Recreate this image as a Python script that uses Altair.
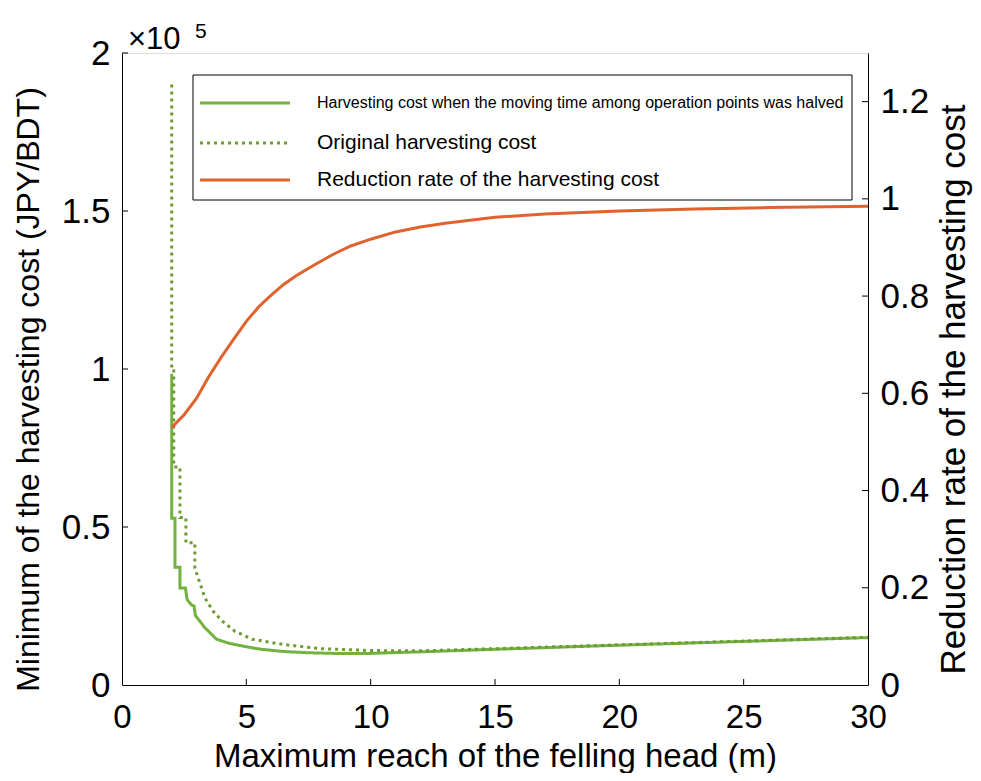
import altair as alt
import pandas as pd

S1 = "Harvesting cost when the moving time among operation points was halved"
S2 = "Original harvesting cost"
S3 = "Reduction rate of the harvesting cost"

# Halved moving time cost (JPY/BDT), corner points
half_x = [2.0, 2.0, 2.13, 2.13, 2.33, 2.33, 2.55, 2.62, 2.8, 2.9, 2.95, 3.2, 3.3,
          3.8, 4.3, 5.0, 5.6, 6.5, 7.5, 8.5, 10, 12, 15, 20, 25, 30]
half_y = [98500, 52800, 52800, 37300, 37300, 30700, 30700, 27000, 25300, 25000, 22000, 19500, 18400,
          14500, 13200, 12100, 11300, 10600, 10200, 10000, 10000, 10500, 11300, 12600, 13800, 15000]

# Original cost (JPY/BDT)
orig_x = [2.0, 2.0, 2.08, 2.08, 2.33, 2.33, 2.57, 2.57, 2.93, 2.93, 3.1, 3.34, 3.67,
          4.02, 4.54, 5.23, 6.5, 8, 10, 12, 15, 20, 25, 30]
orig_y = [190000, 100000, 100000, 69000, 69000, 53000, 53000, 45000, 45000, 37000, 33000, 27500, 23300,
          20300, 17000, 14500, 12800, 11500, 10900, 10800, 11500, 12700, 13900, 15100]

# Reduction rate (right axis)
rate_x = [2.0, 2.5, 3.0, 3.5, 4.0, 4.5, 5.0, 5.5, 6.0, 6.5, 7.0, 7.8, 8.5, 9.2,
          10.0, 11.0, 12.0, 13.0, 14.0, 15.0, 17.0, 20.0, 23.0, 26.0, 30.0]
rate_y = [0.530, 0.556, 0.590, 0.635, 0.675, 0.712, 0.748, 0.778, 0.802, 0.824, 0.842,
          0.866, 0.886, 0.903, 0.917, 0.932, 0.942, 0.950, 0.956, 0.962, 0.969, 0.975, 0.979, 0.982, 0.985]

x_ticks = [0, 5, 10, 15, 20, 25, 30]
left_ticks = [0, 50000, 100000, 150000, 200000]
right_ticks = [0, 0.2, 0.4, 0.6, 0.8, 1.0, 1.2]

legend_labels = [S1, S2, S3]
legend_sizes = [16, 21, 21]

W, H = 746, 632
FONT = "Liberation Sans"
GREEN = "#72b23e"
OLIVE = "#6f9a35"
RED = "#e0622c"
COLORS = [GREEN, OLIVE, RED]
DASHES = [[1, 0], [3, 4], [1, 0]]

half = pd.DataFrame({"x": half_x, "y": half_y, "i": list(range(len(half_x)))})
orig = pd.DataFrame({"x": orig_x, "y": orig_y, "i": list(range(len(orig_x)))})
rate = pd.DataFrame({"x": rate_x, "r": rate_y, "i": list(range(len(rate_x)))})

xscale = alt.Scale(domain=[0, 30], nice=False, zero=False)
lscale = alt.Scale(domain=[0, 200000], nice=False)
rscale = alt.Scale(domain=[0, 1.3], nice=False)

xaxis = alt.Axis(values=x_ticks, title="Maximum reach of the felling head (m)", grid=False,
                 tickSize=0, labelFontSize=33, titleFontSize=33, labelPadding=16, titlePadding=6,
                 labelFont=FONT, titleFont=FONT, titleFontWeight="normal",
                 labelColor="black", titleColor="black", domainColor="black", labelFlush=False)
laxis = alt.Axis(values=left_ticks, title="Minimum of the harvesting cost (JPY/BDT)", grid=False,
                 tickSize=0, labelFontSize=35, titleFontSize=32, labelPadding=12, titlePadding=16,
                 titleY=336,
                 labelExpr="format(datum.value / 100000, '~g')",
                 labelFont=FONT, titleFont=FONT, titleFontWeight="normal",
                 labelColor="black", titleColor="black", domainColor="black")
raxis = alt.Axis(values=right_ticks, title="Reduction rate of the harvesting cost", grid=False, orient="right",
                 tickSize=0, labelFontSize=35, titleFontSize=35, labelPadding=12, titlePadding=8,
                 titleAngle=270, titleBaseline="top", titleY=336,
                 format="~g",
                 labelFont=FONT, titleFont=FONT, titleFontWeight="normal",
                 labelColor="black", titleColor="black", domainColor="black")


def cost_line(df, color, dash):
    return alt.Chart(df).mark_line(strokeWidth=3, color=color, strokeDash=dash).encode(
        x=alt.X("x:Q", scale=xscale, axis=xaxis),
        y=alt.Y("y:Q", scale=lscale, axis=laxis),
        order="i:Q",
    )

half_line = cost_line(half, GREEN, DASHES[0])
orig_line = cost_line(orig, OLIVE, DASHES[1])

bticks = alt.Chart(pd.DataFrame({"v": x_ticks[1:-1]})).mark_rule(color="black", strokeWidth=1).encode(
    x=alt.X("v:Q", scale=xscale, axis=xaxis), y=alt.value(H - 6), y2=alt.value(H))
lticks = alt.Chart(pd.DataFrame({"v": left_ticks[1:]})).mark_rule(color="black", strokeWidth=1).encode(
    y=alt.Y("v:Q", scale=lscale, axis=laxis), x=alt.value(0), x2=alt.value(6))

exp_main = alt.Chart(pd.DataFrame({"t": ["\u00d710"]})).mark_text(
    font=FONT, fontSize=31, align="left", baseline="alphabetic", color="black").encode(
    text="t:N", x=alt.value(6), y=alt.value(-4))
exp_sup = alt.Chart(pd.DataFrame({"t": ["5"]})).mark_text(
    font=FONT, fontSize=21, align="left", baseline="alphabetic", color="black").encode(
    text="t:N", x=alt.value(73), y=alt.value(-15))

left = alt.layer(half_line, orig_line, bticks, lticks, exp_main, exp_sup)

rate_line = alt.Chart(rate).mark_line(strokeWidth=3, color=RED).encode(
    x=alt.X("x:Q", scale=xscale, axis=xaxis),
    y=alt.Y("r:Q", scale=rscale, axis=raxis),
    order="i:Q",
)
rticks = alt.Chart(pd.DataFrame({"v": right_ticks[1:]})).mark_rule(color="black", strokeWidth=1).encode(
    y=alt.Y("v:Q", scale=rscale, axis=raxis), x=alt.value(W - 6), x2=alt.value(W))

# legend box drawn by hand (entries have different font sizes)
one = pd.DataFrame({"a": [0]})
leg_box = alt.Chart(one).mark_rect(fill="white", stroke="black", strokeWidth=1).encode(
    x=alt.value(71), x2=alt.value(730), y=alt.value(22), y2=alt.value(147))
row_y = [50, 90, 127]
leg_items = [leg_box]
for lab, fs, col, dash, ry in zip(legend_labels, legend_sizes, COLORS, DASHES, row_y):
    leg_items.append(alt.Chart(one).mark_rule(color=col, strokeWidth=3, strokeDash=dash).encode(
        x=alt.value(78), x2=alt.value(168), y=alt.value(ry)))
    leg_items.append(alt.Chart(pd.DataFrame({"t": [lab]})).mark_text(
        font=FONT, fontSize=fs, align="left", baseline="middle", color="black").encode(
        text="t:N", x=alt.value(195), y=alt.value(ry)))

right = alt.layer(rate_line, rticks, *leg_items)

chart = alt.layer(left, right).resolve_scale(y="independent").properties(
    width=W, height=H,
    autosize=alt.AutoSizeParams(type="none"),
    padding={"left": 114, "top": 45, "right": 105, "bottom": 88}
).configure_view(stroke=None).configure(background="white")

chart.save("out.html", embed_options={"renderer": "svg", "actions": False})
